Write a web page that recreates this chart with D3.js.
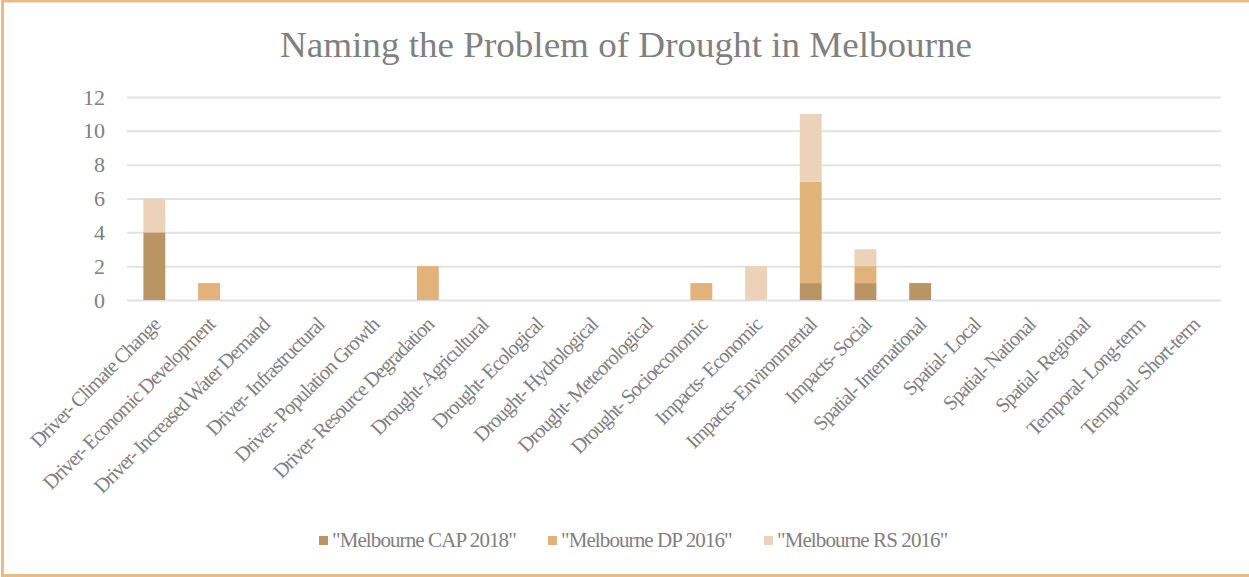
<!DOCTYPE html>
<html>
<head>
<meta charset="utf-8">
<script src="https://cdn.jsdelivr.net/npm/d3@7"></script>
<style>
  html, body { margin: 0; padding: 0; background: #fff; }
  svg { display: block; }
  text { font-family: "Liberation Serif", "Times New Roman", serif; }
</style>
</head>
<body>
<svg id="chart" width="1249" height="577"></svg>
<script>
// Coded themes and how often each document names them
const categories = [
  "Driver- Climate Change", "Driver- Economic Development", "Driver- Increased Water Demand",
  "Driver- Infrastructural", "Driver- Population Growth", "Driver- Resource Degradation",
  "Drought- Agricultural", "Drought- Ecological", "Drought- Hydrological",
  "Drought- Meteorological", "Drought- Socioeconomic", "Impacts- Economic",
  "Impacts- Environmental", "Impacts- Social", "Spatial- International",
  "Spatial- Local", "Spatial- National", "Spatial- Regional",
  "Temporal- Long-term", "Temporal- Short-term"
];
const seriesNames = ["\"Melbourne CAP 2018\"", "\"Melbourne DP 2016\"", "\"Melbourne RS 2016\""];
const cap2018 = [4, 0, 0, 0, 0, 0, 0, 0, 0, 0, 0, 0, 1, 1, 1, 0, 0, 0, 0, 0];
const dp2016  = [0, 1, 0, 0, 0, 2, 0, 0, 0, 0, 1, 0, 6, 1, 0, 0, 0, 0, 0, 0];
const rs2016  = [2, 0, 0, 0, 0, 0, 0, 0, 0, 0, 0, 2, 4, 1, 0, 0, 0, 0, 0, 0];
const yTicks = [0, 2, 4, 6, 8, 10, 12];
const titleText = "Naming  the  Problem  of  Drought  in  Melbourne";

const colors = ["#b99465", "#e1b37a", "#ecd2b8"];
const textGrey = "#808080";

const svg = d3.select("#chart");
const W = 1249, H = 577;

// outer frame
svg.append("rect")
  .attr("x", 2.5).attr("y", 1).attr("width", W + 10).attr("height", H - 2.5)
  .attr("fill", "#fff").attr("stroke", "#e8bc88").attr("stroke-width", 3);

const plot = { left: 127, right: 1221, top: 97, bottom: 300 };

const x = d3.scaleBand()
  .domain(categories)
  .range([plot.left, plot.right])
  .paddingInner(0.6).paddingOuter(0.3);

const y = d3.scaleLinear().domain([0, 12]).range([plot.bottom, plot.top]);

// title
svg.append("text")
  .attr("x", 626).attr("y", 57)
  .attr("text-anchor", "middle")
  .attr("font-size", 35)
  .attr("fill", textGrey)
  .attr("textLength", 692).attr("lengthAdjust", "spacingAndGlyphs")
  .text(titleText);

// gridlines + y tick labels
const yAxis = d3.axisLeft(y).tickValues(yTicks).tickSize(-(plot.right - plot.left)).tickPadding(22);
const gy = svg.append("g").attr("transform", `translate(${plot.left},0)`).call(yAxis);
gy.select(".domain").remove();
gy.selectAll(".tick line").attr("stroke", "#e2e2e2").attr("stroke-width", 2);
gy.selectAll(".tick text")
  .attr("fill", textGrey)
  .attr("font-size", 22)
  .attr("font-family", "Liberation Serif, serif");

// stacked bars
const rows = categories.map((c, i) => ({ cat: c, cap: cap2018[i], dp: dp2016[i], rs: rs2016[i] }));
const stack = d3.stack().keys(["cap", "dp", "rs"])(rows);

svg.append("g").selectAll("g")
  .data(stack)
  .join("g")
  .attr("fill", (d, i) => colors[i])
  .selectAll("rect")
  .data(d => d.filter(s => s[1] > s[0]))
  .join("rect")
  .attr("x", d => x(d.data.cat))
  .attr("width", x.bandwidth())
  .attr("y", d => y(d[1]))
  .attr("height", d => y(d[0]) - y(d[1]));

// category labels along the x axis
const xAxis = d3.axisBottom(x).tickSize(0).tickPadding(0);
const gx = svg.append("g").attr("transform", `translate(0,${plot.bottom})`).call(xAxis);
gx.select(".domain").remove();
gx.selectAll(".tick text")
  .attr("fill", textGrey)
  .attr("font-size", 20.5)
  .attr("letter-spacing", "-1.1")
  .attr("font-family", "Liberation Serif, serif")
  .attr("text-anchor", "end")
  .attr("dy", 0)
  .attr("transform", "translate(7,26) rotate(-45)");

// legend
const legendX = [319, 548, 764];
const legend = svg.append("g");
seriesNames.forEach((name, i) => {
  legend.append("rect")
    .attr("x", legendX[i]).attr("y", 536).attr("width", 9).attr("height", 9)
    .attr("fill", colors[i]);
  legend.append("text")
    .attr("x", legendX[i] + 13).attr("y", 547)
    .attr("font-size", 21)
    .attr("letter-spacing", "-0.9")
    .attr("fill", textGrey)
    .text(name);
});
</script>
</body>
</html>
